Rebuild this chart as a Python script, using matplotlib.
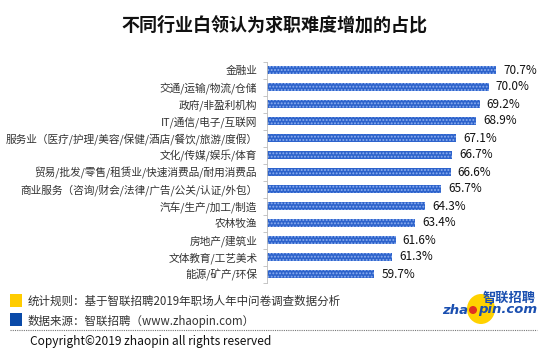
import matplotlib
matplotlib.use('Agg')
import matplotlib.pyplot as plt
from matplotlib.patches import Rectangle, Ellipse
from matplotlib.lines import Line2D

plt.rcParams['font.family'] = ['Noto Sans CJK SC', 'DejaVu Sans']
plt.rcParams['hatch.linewidth'] = 0.9

# 数据
hangye = ['金融业', '交通/运输/物流/仓储', '政府/非盈利机构', 'IT/通信/电子/互联网',
          '服务业（医疗/护理/美容/保健/酒店/餐饮/旅游/度假）', '文化/传媒/娱乐/体育',
          '贸易/批发/零售/租赁业/快速消费品/耐用消费品',
          '商业服务（咨询/财会/法律/广告/公关/认证/外包）', '汽车/生产/加工/制造',
          '农林牧渔', '房地产/建筑业', '文体教育/工艺美术', '能源/矿产/环保']
zhanbi = [70.7, 70.0, 69.2, 68.9, 67.1, 66.7, 66.6, 65.7, 64.3, 63.4, 61.6, 61.3, 59.7]

W, H = 548, 354
fig = plt.figure(figsize=(W / 100, H / 100), dpi=100)
fig.patch.set_facecolor('white')


def px(x, y):
    # 像素坐标 -> figure 坐标
    return x / W, 1 - y / H


# 主图区域
x0, x1 = 267, 544
y_top, y_bot = 61.5, 282.5
ax = fig.add_axes([x0 / W, 1 - y_bot / H, (x1 - x0) / W, (y_bot - y_top) / H])

pos = list(range(len(hangye)))
ax.barh(pos, [v - 50 for v in zhanbi], left=50, height=0.5,
        color='#2d63cc', edgecolor='#8fb0ee', linewidth=0, hatch='.....')
ax.set_xlim(50, 75)
ax.set_ylim(len(hangye) - 0.5, -0.5)

for i, v in enumerate(zhanbi):
    ax.annotate(f'{v:.1f}%', (v, i), xytext=(5, 0), textcoords='offset points',
                va='center', ha='left', fontsize=8.5, color='#111111')

ax.set_yticks(pos)
ax.set_yticklabels(hangye, fontsize=7.7, color='#333333')
ax.tick_params(axis='y', which='major', length=0, pad=7)
ax.set_yticks([p - 0.5 for p in pos] + [len(pos) - 0.5], minor=True)
ax.tick_params(axis='y', which='minor', length=3, color='#bbbbbb', width=0.6)
ax.set_xticks([])
for s in ['top', 'right', 'bottom']:
    ax.spines[s].set_visible(False)
ax.spines['left'].set_color('#bbbbbb')
ax.spines['left'].set_linewidth(0.6)

# 标题
fig.text(*px(274, 25), '不同行业白领认为求职难度增加的占比', ha='center', va='center',
         fontsize=13, fontweight='bold', color='#111111')

# 底部说明
fig.add_artist(Rectangle(px(10, 307), 12 / W, 13 / H, transform=fig.transFigure,
                         facecolor='#ffcc00', edgecolor='none'))
fig.add_artist(Rectangle(px(10, 326), 12 / W, 13 / H, transform=fig.transFigure,
                         facecolor='#0a4aa8', edgecolor='none'))
fig.text(*px(28, 301), '统计规则：基于智联招聘2019年职场人年中问卷调查数据分析',
         ha='left', va='center', fontsize=8.3, color='#333333')
fig.text(*px(28, 321), '数据来源：智联招聘（www.zhaopin.com）',
         ha='left', va='center', fontsize=8.3, color='#333333')
fig.add_artist(Line2D([10 / W, 537 / W], [1 - 330 / H, 1 - 330 / H], transform=fig.transFigure,
                      color='#777777', linewidth=0.8, linestyle=(0, (1, 1))))
fig.text(*px(30, 342), 'Copyright©2019 zhaopin all rights reserved',
         ha='left', va='center', fontsize=8.6, color='#111111')

# logo
fig.add_artist(Ellipse(px(481, 309), 28 / W, 30 / H, transform=fig.transFigure,
                       facecolor='#ffd200', edgecolor='none'))
fig.add_artist(Ellipse(px(473, 310), 8 / W, 8 / H, transform=fig.transFigure,
                       facecolor='#e03020', edgecolor='none'))
fig.text(*px(509, 298), '智联招聘', ha='center', va='center', fontsize=9.5,
         fontweight='bold', style='italic', color='#1a4fb0')
fig.text(*px(468, 310), 'zha', ha='right', va='center', fontsize=9.5,
         fontweight='bold', style='italic', color='#1a4fb0', family='DejaVu Sans')
fig.text(*px(478, 310), 'pin.com', ha='left', va='center', fontsize=9.5,
         fontweight='bold', style='italic', color='#1a4fb0', family='DejaVu Sans')

fig.savefig('out.png', dpi=100)
